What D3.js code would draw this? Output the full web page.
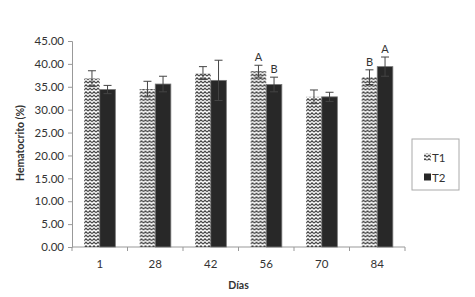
<!DOCTYPE html>
<html>
<head>
<meta charset="utf-8">
<script src="https://cdn.jsdelivr.net/npm/d3@7"></script>
<style>
  body { margin: 0; background: #fff; }
  text { font-family: Lato, "Open Sans", sans-serif; fill: #333; }
</style>
</head>
<body>
<div id="container"></div>
<script>
/* CONSTANTS AND GLOBALS */
const width = 475,
  height = 297,
  margin = {top: 41, bottom: 50, left: 72, right: 70};

/* DATA */
const days = ["1", "28", "42", "56", "70", "84"];
const t1 = [36.8, 34.5, 38.0, 38.4, 32.8, 37.1];
const t1Err = [1.7, 1.7, 1.4, 1.3, 1.5, 1.6];
const t2 = [34.4, 35.6, 36.4, 35.5, 32.8, 39.4];
const t2Err = [0.9, 1.7, 4.4, 1.6, 1.0, 2.1];
const t1Letters = ["", "", "", "A", "", "B"];
const t2Letters = ["", "", "", "B", "", "A"];
const yTicks = [0, 5, 10, 15, 20, 25, 30, 35, 40, 45];
const series = ["T1", "T2"];

const svg = d3.select("#container")
  .append("svg")
  .attr("width", width)
  .attr("height", height);

// zigzag pattern for T1
const defs = svg.append("defs");
const pat = defs.append("pattern")
  .attr("id", "zig")
  .attr("patternUnits", "userSpaceOnUse")
  .attr("width", 4)
  .attr("height", 3.5);
pat.append("rect").attr("width", 4).attr("height", 3.5).attr("fill", "#fff");
pat.append("path")
  .attr("d", "M0,2.7 L2,0.8 L4,2.7")
  .attr("fill", "none")
  .attr("stroke", "#222")
  .attr("stroke-width", 1.1);

/* SCALES */
const xScale = d3.scaleBand()
  .domain(days)
  .range([margin.left, width - margin.right]);

const yScale = d3.scaleLinear()
  .domain([0, 45])
  .range([height - margin.bottom, margin.top]);

const inner = d3.scaleBand()
  .domain(series)
  .range([0, xScale.bandwidth()])
  .paddingInner(0)
  .paddingOuter(0.78);

/* AXES */
const yAxis = d3.axisLeft(yScale)
  .tickValues(yTicks)
  .tickFormat(d3.format(".2f"))
  .tickSize(4);

const yAxisGroup = svg.append("g")
  .attr("transform", `translate(${margin.left},0)`)
  .call(yAxis);

const xTickPos = days.map(d => xScale(d)).concat([width - margin.right]);

const xAxisGroup = svg.append("g")
  .attr("transform", `translate(0,${height - margin.bottom})`);
xAxisGroup.append("line")
  .attr("x1", margin.left).attr("x2", width - margin.right)
  .attr("stroke", "#999");
xAxisGroup.selectAll(".tk")
  .data(xTickPos)
  .join("line")
  .attr("x1", d => d).attr("x2", d => d)
  .attr("y1", 0).attr("y2", 4)
  .attr("stroke", "#999");
xAxisGroup.selectAll(".lbl")
  .data(days)
  .join("text")
  .attr("x", d => xScale(d) + xScale.bandwidth() / 2)
  .attr("y", 21)
  .attr("text-anchor", "middle")
  .attr("font-size", 11.5)
  .text(d => d);

yAxisGroup.select(".domain").attr("stroke", "#999");
yAxisGroup.selectAll(".tick line").attr("stroke", "#999");
yAxisGroup.selectAll(".tick text")
  .attr("font-size", 11.5)
  .attr("fill", "#333")
  .attr("x", -8);

/* BARS */
const rows = days.map((d, i) => ({
  day: d,
  vals: [
    {s: "T1", v: t1[i], e: t1Err[i], l: t1Letters[i]},
    {s: "T2", v: t2[i], e: t2Err[i], l: t2Letters[i]}
  ]
}));

const groups = svg.selectAll(".grp")
  .data(rows)
  .join("g")
  .attr("transform", d => `translate(${xScale(d.day)},0)`);

groups.selectAll("rect")
  .data(d => d.vals)
  .join("rect")
  .attr("x", d => inner(d.s))
  .attr("width", inner.bandwidth())
  .attr("y", d => yScale(d.v))
  .attr("height", d => yScale(0) - yScale(d.v))
  .attr("fill", d => d.s === "T1" ? "url(#zig)" : "#282828")
  .attr("stroke", d => d.s === "T1" ? "none" : "#777")
  .attr("stroke-width", 0.8);

// error bars
const eb = groups.selectAll(".eb")
  .data(d => d.vals)
  .join("g")
  .attr("transform", d => `translate(${inner(d.s) + inner.bandwidth() / 2},0)`);
eb.append("line")
  .attr("y1", d => yScale(d.v - d.e))
  .attr("y2", d => yScale(d.v + d.e))
  .attr("stroke", "#444").attr("stroke-width", 1);
eb.append("line")
  .attr("x1", -4).attr("x2", 4)
  .attr("y1", d => yScale(d.v + d.e))
  .attr("y2", d => yScale(d.v + d.e))
  .attr("stroke", "#444").attr("stroke-width", 1);
eb.append("line")
  .attr("x1", -4).attr("x2", 4)
  .attr("y1", d => yScale(d.v - d.e))
  .attr("y2", d => yScale(d.v - d.e))
  .attr("stroke", "#444").attr("stroke-width", 1);
eb.append("text")
  .attr("y", d => yScale(d.v + d.e) - 4)
  .attr("text-anchor", "middle")
  .attr("font-size", 11)
  .text(d => d.l);

/* AXIS TITLES */
svg.append("text")
  .attr("transform", `translate(24,${(yScale(0) + yScale(45)) / 2 - 1}) rotate(-90)`)
  .attr("text-anchor", "middle")
  .attr("font-size", 10.5)
  .attr("font-weight", "bold")
  .attr("fill", "#222")
  .text("Hematocrito (%)");

svg.append("text")
  .attr("x", (margin.left + width - margin.right) / 2)
  .attr("y", 289)
  .attr("text-anchor", "middle")
  .attr("font-size", 10.5)
  .attr("font-weight", "bold")
  .attr("fill", "#222")
  .text("Días");

/* LEGEND */
const legend = svg.append("g").attr("transform", "translate(412,139)");
legend.append("rect")
  .attr("width", 47).attr("height", 51)
  .attr("fill", "#fff").attr("stroke", "#aaa");
const li = legend.selectAll(".li")
  .data(series)
  .join("g")
  .attr("transform", (d, i) => `translate(11,${19 + i * 20})`);
li.append("rect")
  .attr("x", 1).attr("y", -4.5)
  .attr("width", 7).attr("height", 7)
  .attr("fill", d => d === "T1" ? "url(#zig)" : "#282828");
li.append("text")
  .attr("x", 9).attr("y", 4)
  .attr("font-size", 11.5)
  .text(d => d);
</script>
</body>
</html>
